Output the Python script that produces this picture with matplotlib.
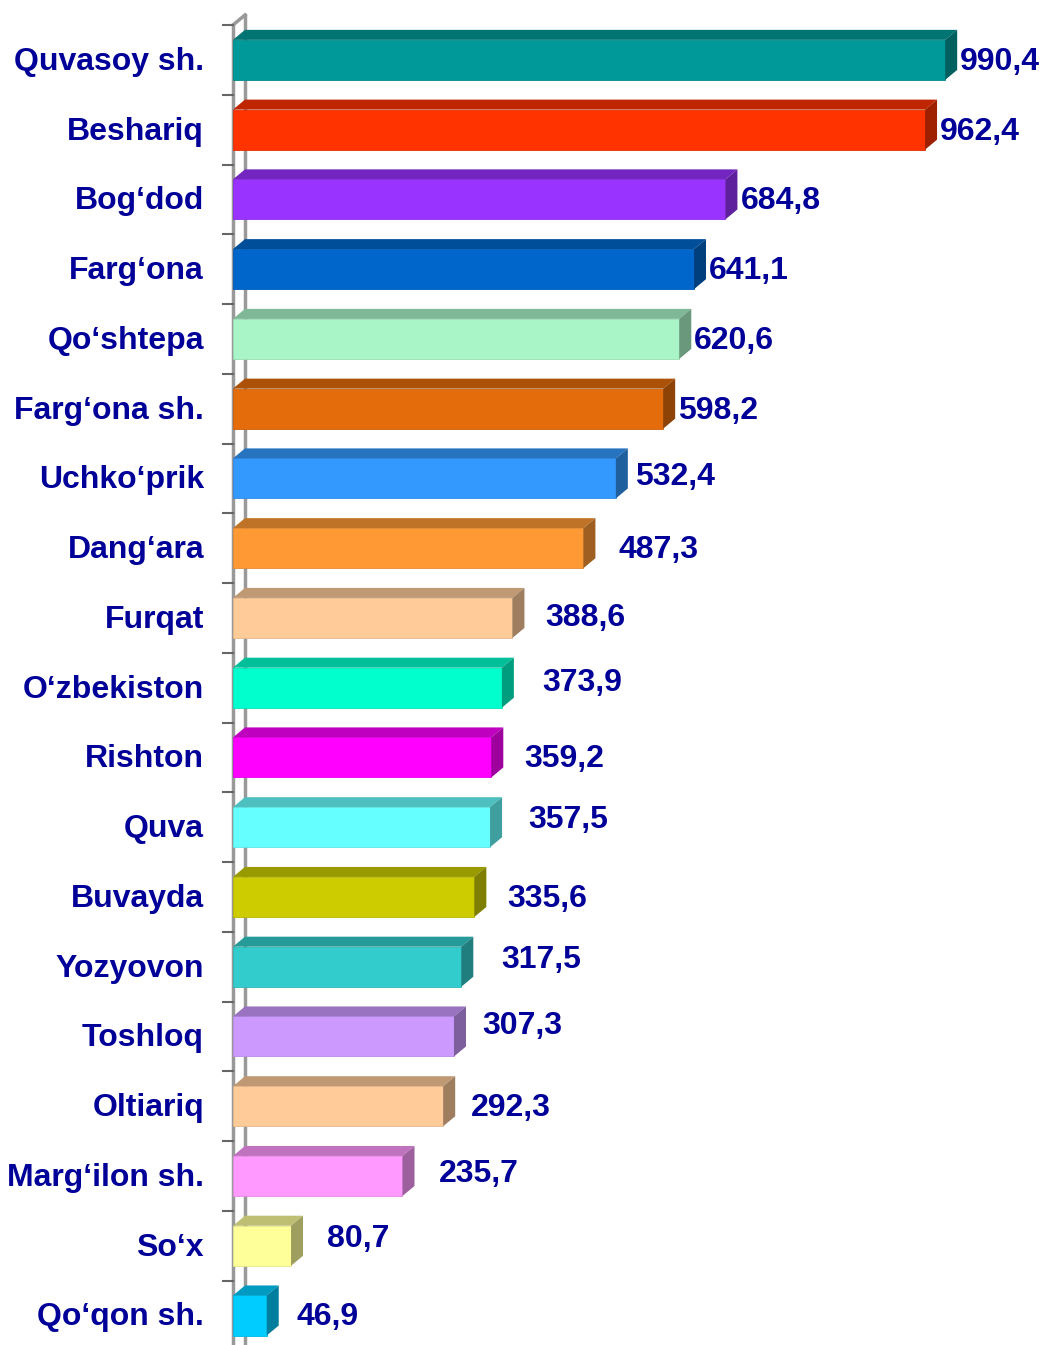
import numpy as np
import matplotlib.pyplot as plt
from matplotlib.patches import Polygon
from matplotlib.colors import to_rgb

# districts, top to bottom
names = ["Quvasoy sh.", "Beshariq", "Bog\u2018dod", "Farg\u2018ona", "Qo\u2018shtepa",
         "Farg\u2018ona sh.", "Uchko\u2018prik", "Dang\u2018ara", "Furqat", "O\u2018zbekiston",
         "Rishton", "Quva", "Buvayda", "Yozyovon", "Toshloq", "Oltiariq",
         "Marg\u2018ilon sh.", "So\u2018x", "Qo\u2018qon sh."]
values = [990.4, 962.4, 684.8, 641.1, 620.6, 598.2, 532.4, 487.3, 388.6, 373.9,
          359.2, 357.5, 335.6, 317.5, 307.3, 292.3, 235.7, 80.7, 46.9]
colors = ["#009999", "#FF3300", "#9933FF", "#0066CC", "#A9F5C8", "#E46C0A",
          "#3399FF", "#FF9933", "#FFCC99", "#00FFCC", "#FF00FF", "#66FFFF",
          "#CCCC00", "#33CCCC", "#CC99FF", "#FFCC99", "#FF99FF", "#FFFF99", "#00CCFF"]
# where each value label sits relative to the end of its bar (pixels)
lab_dx = [15, 15, 15, 15, 15, 15, 19, 35, 33, 40, 33, 38, 33, 40, 28, 28, 36, 36, 30]
lab_dy = [0, 0, 0, 0, 0, 0, 3, 0, 2, 7, 0, 9, 0, 9, 12, 0, 4, 9, 0]

navy = "#000099"
font = "Liberation Sans"
fs = 23

W, H = 1043, 1345
fig = plt.figure(figsize=(W / 100, H / 100), dpi=100)
x0, top, step = 233, 25, 69.75
xmax = 1100
axw = 791
ax = fig.add_axes([x0 / W, 0, axw / W, (H - top) / H])
ymax = (H - 60) / step
ax.set_xlim(0, xmax)
ax.set_ylim(ymax, -0.5)
ax.axis("off")

# depth of the 3d effect in data units
ddx = 12 / (axw / xmax)
ddy = 10 / step
h = 0.287

def shade(c, f):
    return tuple(np.array(to_rgb(c)) * f)

for i, (v, c) in enumerate(zip(values, colors)):
    ax.barh(i, v, height=2 * h, left=0, color=c, edgecolor=shade(c, 0.9),
            linewidth=0.6, zorder=3)
    topf = Polygon([(0, i - h), (ddx, i - h - ddy), (v + ddx, i - h - ddy), (v, i - h)],
                   closed=True, facecolor=shade(c, 0.75), edgecolor="none", zorder=3)
    side = Polygon([(v, i - h), (v + ddx, i - h - ddy), (v + ddx, i + h - ddy), (v, i + h)],
                   closed=True, facecolor=shade(c, 0.62), edgecolor="none", zorder=3)
    ax.add_patch(topf)
    ax.add_patch(side)
    lab = f"{v:.1f}".replace(".", ",")
    ax.annotate(lab, xy=(v, i), xytext=(lab_dx[i], lab_dy[i] - 2), textcoords="offset pixels",
                ha="left", va="center", fontsize=fs, fontweight="bold", color=navy,
                family=font, annotation_clip=False)
    ax.annotate(names[i], xy=(0, i), xytext=(-29, -2), textcoords="offset pixels",
                ha="right", va="center", fontsize=fs, fontweight="bold", color=navy,
                family=font, annotation_clip=False)

# axis wall: front and back lines with tick marks
grey = "#999999"
ybot = ymax + 0.2
ax.plot([0, 0], [-0.5, ybot], color=grey, lw=2.5, clip_on=False, zorder=2)
ax.plot([ddx, ddx], [-0.5 - ddy, ybot], color=grey, lw=2.5, clip_on=False, zorder=1)
ax.plot([0, ddx], [-0.5, -0.5 - ddy], color=grey, lw=2.5, clip_on=False, zorder=1)
for k in range(len(names) + 1):
    ax.plot([-10 / (axw / xmax), 0], [k - 0.5, k - 0.5], color="#666666", lw=1.5,
            clip_on=False, zorder=2)

fig.savefig("out.png", dpi=100)
